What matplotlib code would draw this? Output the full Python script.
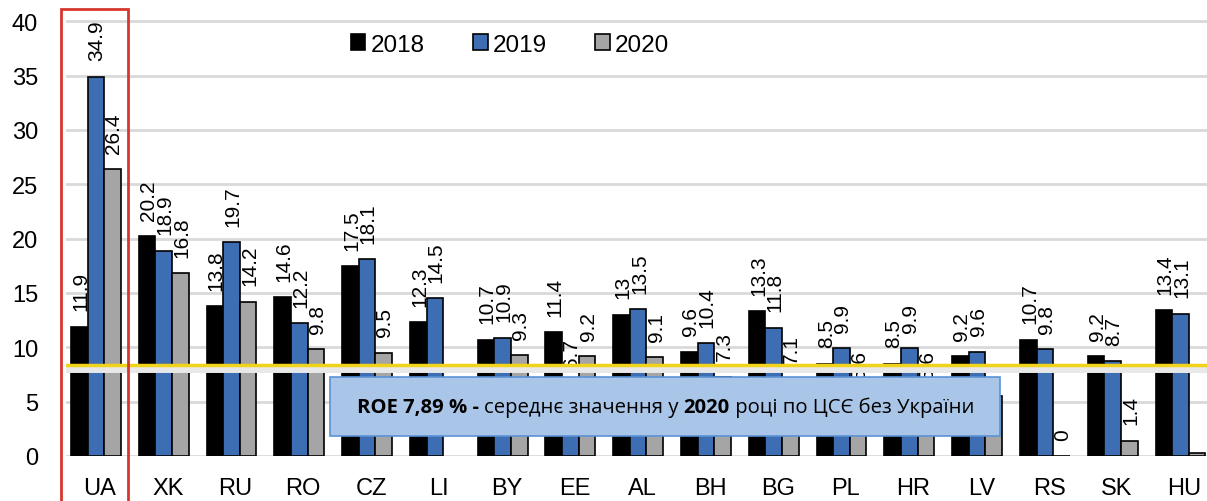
import numpy as np
import matplotlib
matplotlib.use('Agg')
import matplotlib.pyplot as plt
from matplotlib.patches import Rectangle

countries = ['UA', 'XK', 'RU', 'RO', 'CZ', 'LI', 'BY', 'EE', 'AL', 'BH', 'BG',
             'PL', 'HR', 'LV', 'RS', 'SK', 'HU']
roe_2018 = [11.9, 20.2, 13.8, 14.6, 17.5, 12.3, 10.7, 11.4, 13.0, 9.6, 13.3,
            8.5, 8.5, 9.2, 10.7, 9.2, 13.4]
roe_2019 = [34.9, 18.9, 19.7, 12.2, 18.1, 14.5, 10.9, 6.7, 13.5, 10.4, 11.8,
            9.9, 9.9, 9.6, 9.8, 8.7, 13.1]
roe_2020 = [26.4, 16.8, 14.2, 9.8, 9.5, np.nan, 9.3, 9.2, 9.1, 7.3, 7.1,
            5.6, 5.6, 5.5, 0.0, 1.4, 0.3]
# labels shown for the 2020 series (None = no visible label)
labels_2020 = ['26.4', '16.8', '14.2', '9.8', '9.5', None, '9.3', '9.2', '9.1',
               '7.3', '7.1', '5.6', '5.6', None, '0', '1.4', None]
years = ['2018', '2019', '2020']
avg_line = 8.4

colors = ['#000000', '#3d6db2', '#a5a5a5']

plt.rcParams['font.family'] = ['Liberation Sans', 'DejaVu Sans']

fig = plt.figure(figsize=(12.07, 5.02), dpi=100)
ax = fig.add_axes([66 / 1207, 45 / 502, 1.0 - 66 / 1207, 451 / 502])

x = np.arange(len(countries))
w = 0.245
series = [roe_2018, roe_2019, roe_2020]
for i, vals in enumerate(series):
    pos = x + (i - 1) * w - 0.06
    ax.bar(pos, vals, width=w, color=colors[i], edgecolor='black',
           linewidth=1.2, label=years[i], zorder=3)
    for j, v in enumerate(vals):
        if i == 2:
            txt = labels_2020[j]
        else:
            txt = ('%g' % v)
        if txt is None or np.isnan(v):
            continue
        ax.text(pos[j] + 0.02, v + 1.5, txt, rotation=90, ha='center',
                va='bottom', fontsize=15, zorder=4)

ax.set_xlim(-0.5, 16.33)
ax.set_ylim(0, 41.5)
ax.set_yticks(np.arange(0, 41, 5))
ax.yaxis.grid(True, color='#d9d9d9', linewidth=2, zorder=0)
ax.set_axisbelow(True)
for s in ax.spines.values():
    s.set_visible(False)
ax.tick_params(axis='both', length=0, labelsize=17)
ax.tick_params(axis='x', pad=15)
ax.tick_params(axis='y', pad=20)
ax.set_xticks(x)
ax.set_xticklabels(countries)

# average line with soft shadow
ax.axhline(avg_line - 0.35, color='#e8e8e8', linewidth=5, zorder=5)
ax.axhline(avg_line, color='#f2d31b', linewidth=2.5, zorder=6)

# annotation box
box = Rectangle((3.4, 1.85), 9.88, 5.4, facecolor='#a9c5e8',
                edgecolor='#5b92d6', linewidth=1.2, zorder=7)
ax.add_patch(box)

parts = [('ROE 7,89 % - ', 'bold'), ('середнє значення у ', 'normal'),
         ('2020', 'bold'), (' році по ЦСЄ без України', 'normal')]
fig.canvas.draw()
renderer = fig.canvas.get_renderer()
tobjs = []
for t, wgt in parts:
    tobjs.append(ax.text(0, 4.55, t, fontsize=14.6, fontweight=wgt,
                         family=['Open Sans', 'DejaVu Sans'], va='center',
                         ha='left', zorder=8))
widths = [to.get_window_extent(renderer).width for to in tobjs]
total = sum(widths)
start_px = ax.transData.transform((3.4 + 9.88 / 2, 0))[0] - total / 2
inv = ax.transData.inverted()
cur = start_px
for to, wd in zip(tobjs, widths):
    xd = inv.transform((cur, 0))[0]
    to.set_x(xd)
    cur += wd

leg = ax.legend(loc='upper left', bbox_to_anchor=(263 / 1141, 0.985), ncol=3,
                frameon=False, fontsize=17.5, handlelength=0.6,
                handleheight=0.6, handletextpad=0.2, columnspacing=2.0)

# red frame around UA
fig.add_artist(Rectangle((61 / 1207, -0.01), 67 / 1207, (502 - 10) / 502 + 0.01,
                         transform=fig.transFigure, fill=False,
                         edgecolor='#d9352f', linewidth=2))

fig.savefig('out.png', dpi=100)
